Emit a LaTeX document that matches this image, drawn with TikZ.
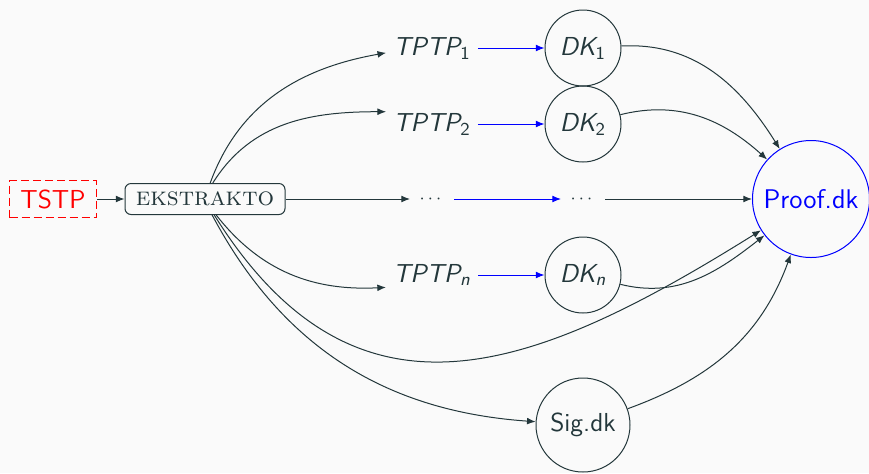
\documentclass[tikz,border=0pt]{standalone}
\usepackage{amsmath}
\usetikzlibrary{arrows.meta}
\definecolor{mdark}{HTML}{23373B}
\definecolor{mbg}{HTML}{FAFAFA}
\renewcommand\familydefault{\sfdefault}
\tikzset{
    srcbox/.style={draw=red,text=red,dash pattern=on 4pt off 2pt,minimum width=43.5pt,minimum height=18.5pt,inner sep=0pt},
    ekbox/.style={draw,rounded corners=3pt,minimum width=80pt,minimum height=15.5pt,inner sep=0pt,font=\rmfamily\fontsize{13}{15}\selectfont},
    dkcirc/.style={draw,circle,inner sep=0pt,minimum size=#1},
    dotsnode/.style={inner sep=0pt,minimum width=21.5pt,minimum height=12pt,font=\fontsize{9.5}{11}\selectfont},
    arr/.style={-{Latex[length=4.3pt,width=3.4pt]}},
    blue arrow/.style={arr,blue},
}
\begin{document}
\begin{tikzpicture}[x=0.5pt,y=0.5pt,line width=0.5pt,color=mdark,font=\fontsize{13}{15}\selectfont]
        \fill[mbg] (0,0) rectangle (869,-473);
        \useasboundingbox (0,0) rectangle (869,-473);
        \node (tstp) at (53,-199)[srcbox]{TSTP};
        \node (ek) at (205,-199)[ekbox]{\textsc{ekstrakto}};
        \foreach \i/\y/\s in {1/48/1, 2/124/2, n/275/\textit{n}}{
            \node (t\i) at (432,-\y){$\textit{TPTP}_{\textup{\s}}$};
            \node (d\i) at (583,-\y)[dkcirc=38pt]{$\textit{DK}_{\textup{\s}}$};
            \draw[blue arrow] (t\i) -- (d\i);
        }
        \node (tdots) at (432,-199)[dotsnode]{$\cdots$};
        \node (ddots) at (583,-199)[dotsnode]{$\cdots$};
        \node (proof) at (811,-199)[dkcirc=58.5pt,draw=blue,text=blue,font=\fontsize{13.5}{15}\selectfont]{Proof.dk};
        \node (sig) at (583,-425)[dkcirc=47pt]{Sig.dk};
        \draw[arr] (tstp) -- (ek);
        \draw[arr] (ek.72) to[out=70,in=190] (t1.186);
        \draw[arr] (ek.64) to[out=58,in=180] (t2.165);
        \draw[arr] (ek) -- (tdots);
        \draw[blue arrow] (tdots) -- (ddots);
        \draw[arr] (ddots) -- (proof);
        \draw[arr] (ek.-55) to[out=-52,in=183] (tn.195);
        \draw[arr] (ek.-60) to[out=-58,in=212,looseness=1.25] (proof);
        \draw[arr] (ek.-66) to[out=-62,in=176] (sig);
        \draw[arr] (d1) to[out=3,in=122] (proof);
        \draw[arr] (d2) to[out=14,in=138] (proof);
        \draw[arr] (dn) to[out=-14,in=218] (proof);
        \draw[arr] (sig) to[out=20,in=250] (proof);
    \end{tikzpicture}
\end{document}
